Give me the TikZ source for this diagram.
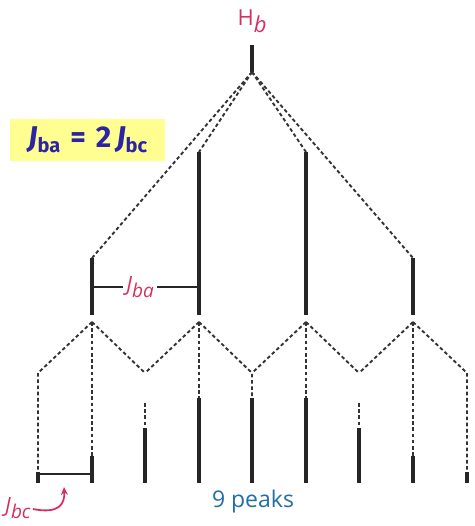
\documentclass[tikz,border=0pt]{standalone}
\usepackage{fontspec}
\setmainfont{Open Sans}
\newfontfamily\boxfont{Fira Sans}
\usetikzlibrary{arrows.meta}
\definecolor{hred}{RGB}{214,48,96}
\definecolor{pblue}{RGB}{35,110,165}
\definecolor{indig}{RGB}{45,35,165}
\definecolor{ybox}{RGB}{255,255,145}
\begin{document}
\begin{tikzpicture}[x=1pt,y=-1pt,
  dsh/.style={line width=1.9pt, dash pattern=on 3.6pt off 2.6pt, black!80},
  pk/.style={line width=3.1pt, black!85},
  barline/.style={line width=1.6pt, black!85},
  lbl/.style={inner sep=0pt, text=hred}]
\useasboundingbox (0,0) rectangle (474,526);
% yellow box
\node[fill=ybox, minimum width=155pt, minimum height=42pt, inner sep=0pt, text=indig, anchor=north west] (eq) at (10,119)
  {\boxfont\bfseries\fontsize{30}{30}\selectfont\textit{J}\raisebox{-5pt}{\fontsize{20}{20}\selectfont ba}\hspace{10pt}=\hspace{10pt}2\hspace{5pt}\textit{J}\raisebox{-5pt}{\fontsize{20}{20}\selectfont bc}};
% top label
\node[lbl] (hb) at (252,21) {\fontsize{22}{22}\selectfont H\raisebox{-7pt}{\textit{b}}};
\coordinate (top) at (252,45);
\coordinate (apex) at (252,72);
% first level
\coordinate (ta) at (92,258);  \coordinate (ea) at (92,315);  \coordinate (sa) at (92,322);
\coordinate (tb) at (199,152); \coordinate (eb) at (199,315); \coordinate (sb) at (199,322);
\coordinate (tc) at (306,152); \coordinate (ec) at (306,315); \coordinate (sc) at (306,322);
\coordinate (td) at (413,258); \coordinate (ed) at (413,315); \coordinate (sd) at (413,322);
% V points
\coordinate (v1) at (38,373);
\coordinate (v3) at (145,373);
\coordinate (v5) at (252,373);
\coordinate (v7) at (359,373);
\coordinate (v9) at (467,373);
\coordinate (w3) at (145,403);
\coordinate (w7) at (359,403);
% peaks
\foreach \i/\x/\y in {1/38/472, 2/92/456, 3/145/428, 4/199/398, 5/252/398, 6/306/398, 7/359/428, 8/413/456, 9/467/472} {
  \coordinate (p\i) at (\x,\y);
  \coordinate (q\i) at (\x,483);
}
\draw[pk] (top) -- (apex);
\draw[dsh] (apex) -- (ta);
\draw[dsh] (apex) -- (tb);
\draw[dsh] (apex) -- (tc);
\draw[dsh] (apex) -- (td);
\draw[pk] (ta) -- (ea);
\draw[pk] (tb) -- (eb);
\draw[pk] (tc) -- (ec);
\draw[pk] (td) -- (ed);
% second level dashed
\draw[dsh] (sa) -- (v1) -- (p1);
\draw[dsh] (sa) -- (p2);
\draw[dsh] (sa) -- (v3);
\draw[dsh] (sb) -- (v3);
\draw[dsh] (sb) -- (p4);
\draw[dsh] (sb) -- (v5) -- (p5);
\draw[dsh] (sc) -- (v5);
\draw[dsh] (sc) -- (p6);
\draw[dsh] (sc) -- (v7);
\draw[dsh] (sd) -- (v7);
\draw[dsh] (sd) -- (p8);
\draw[dsh] (sd) -- (v9) -- (p9);
\draw[dsh] (w3) -- (p3);
\draw[dsh] (w7) -- (p7);
% peaks
\foreach \i in {1,...,9} { \draw[pk] (p\i) -- (q\i); }
% J_ba bracket
\coordinate (ja1) at (92,287);
\coordinate (ja2) at (199,287);
\draw[barline] (ja1) -- node[pos=0.45, fill=white, inner xsep=3pt, inner ysep=1pt, text=hred] (jba)
  {\fontsize{21}{21}\selectfont\textit{J}\raisebox{-6pt}{\fontsize{19}{19}\selectfont\textit{ba}}} (ja2);
% J_bc bracket
\coordinate (jb1) at (38,474);
\coordinate (jb2) at (92,474);
\draw[barline] (jb1) -- (jb2);
\node[lbl, anchor=west] (jbc) at (5,508) {\fontsize{21}{21}\selectfont\textit{J}\raisebox{-6pt}{\fontsize{19}{19}\selectfont\textit{bc}}};
\coordinate (arrtip) at (64,487);
\draw[hred, line width=1.8pt, -{Stealth[length=8pt,width=7pt]}] ([xshift=2pt,yshift=-1pt]jbc.east) .. controls (58,514) and (65,505) .. (arrtip);
% 9 peaks
\node[inner sep=0pt, text=pblue] (nine) at (253,502) {\fontsize{23}{23}\selectfont 9 peaks};
\end{tikzpicture}
\end{document}
